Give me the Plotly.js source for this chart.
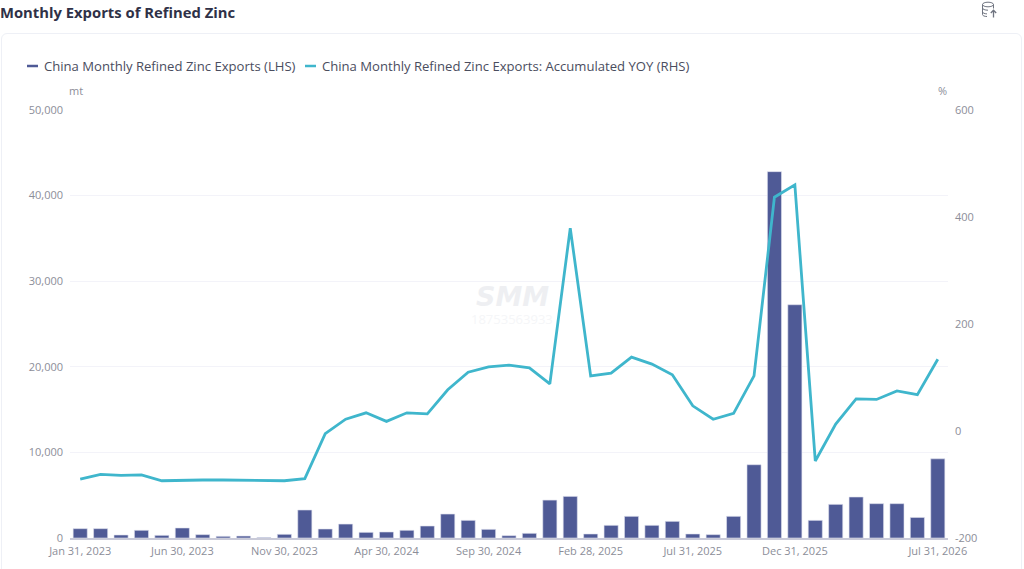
<!DOCTYPE html>
<html>
<head>
<meta charset="utf-8">
<title>Monthly Exports of Refined Zinc</title>
<script src="https://cdn.plot.ly/plotly-3.0.1.min.js"></script>
<style>
  html, body { margin: 0; padding: 0; background: #fff; overflow: hidden; }
  #card { position: absolute; left: 1px; top: 33px; width: 1021px; height: 600px;
          border: 1px solid #eef0f6; border-radius: 6px; box-sizing: border-box; }
  #icon { position: absolute; left: 981px; top: 1px; }
  #chart { position: absolute; left: 0; top: 0; width: 1024px; height: 569px; }
</style>
</head>
<body>
<div id="card"></div>
<svg id="icon" width="18" height="18" viewBox="0 0 18 18" fill="none" stroke="#6f7480" stroke-width="1">
  <ellipse cx="7" cy="3.5" rx="5.5" ry="2.3"/>
  <path d="M1.5 3.5v10c0 1.2 2 2 4.5 2M12.5 3.5v4M1.5 7c0 1.2 2.4 2.2 5.5 2.2M1.5 10.8c0 1.1 2 2 4.5 2.1"/>
  <path d="M12.5 16.5v-7M9.8 12l2.7-2.8 2.7 2.8" stroke-width="1.3"/>
</svg>
<div id="chart"></div>
<script>
var months = [
  'Jan 31, 2023','Feb 28, 2023','Mar 31, 2023','Apr 30, 2023','May 31, 2023','Jun 30, 2023',
  'Jul 31, 2023','Aug 31, 2023','Sep 30, 2023','Oct 31, 2023','Nov 30, 2023','Dec 31, 2023',
  'Jan 31, 2024','Feb 29, 2024','Mar 31, 2024','Apr 30, 2024','May 31, 2024','Jun 30, 2024',
  'Jul 31, 2024','Aug 31, 2024','Sep 30, 2024','Oct 31, 2024','Nov 30, 2024','Dec 31, 2024',
  'Jan 31, 2025','Feb 28, 2025','Mar 31, 2025','Apr 30, 2025','May 31, 2025','Jun 30, 2025',
  'Jul 31, 2025','Aug 31, 2025','Sep 30, 2025','Oct 31, 2025','Nov 30, 2025','Dec 31, 2025',
  'Jan 31, 2026','Feb 28, 2026','Mar 31, 2026','Apr 30, 2026','May 31, 2026','Jun 30, 2026',
  'Jul 31, 2026'
];

var exportsMt = [
  1090, 1090, 350, 900, 310, 1170, 390, 195, 230, 60, 430, 3270,
  1050, 1630, 660, 700, 900, 1400, 2800, 2060, 1010, 270, 545, 4430,
  4860, 470, 1480, 2530, 1480, 1945, 470, 390, 2530, 8560, 42800, 27250,
  2060, 3930, 4790, 4010, 4010, 2400, 9250
];

var accumulatedYoy = [
  -90, -81, -83, -82, -93, -92, -91.6, -91.6, -92, -93, -93, -89,
  -5, 22, 34, 18, 34, 32, 77, 110, 120, 123, 118, 88,
  379, 103, 108, 138, 125, 105, 47, 22, 33, 103, 437, 460,
  -56, 13, 60, 59, 75, 68, 134
];

var xTicks = ['Jan 31, 2023','Jun 30, 2023','Nov 30, 2023','Apr 30, 2024','Sep 30, 2024',
              'Feb 28, 2025','Jul 31, 2025','Dec 31, 2025','Jul 31, 2026'];
var leftTicks = [0, 10000, 20000, 30000, 40000, 50000];
var leftTickText = ['0','10,000','20,000','30,000','40,000','50,000'];
var rightTicks = [-200, 0, 200, 400, 600];
var rightTickText = ['-200','0','200','400','600'];

var barName = 'China Monthly Refined Zinc Exports (LHS)';
var lineName = 'China Monthly Refined Zinc Exports: Accumulated YOY (RHS)';

var barColor = '#4f5a96';
var lineColor = '#3fb6cc';
var tickFont = { family: 'Open Sans, sans-serif', size: 11, color: '#8c8e99' };

// plot box in page pixels, used to place the text that sits outside of it
var box = { l: 70, r: 948, t: 110, b: 538 };
function px(x) { return (x - box.l) / (box.r - box.l); }
function py(y) { return (box.b - y) / (box.b - box.t); }

function label(text, x, y, font, anchor) {
  return { text: text, xref: 'paper', yref: 'paper', x: px(x), y: py(y), showarrow: false,
           xanchor: anchor || 'left', yanchor: 'middle', font: font };
}

var legendFont = { family: 'Open Sans, sans-serif', size: 13.1, color: '#4a4d5e' };
var unitFont = { family: 'Open Sans, sans-serif', size: 11, color: '#8c8e99' };

var traces = [
  {
    x: months, y: exportsMt, type: 'bar', name: barName, yaxis: 'y',
    marker: { color: barColor, line: { color: '#dfe1ee', width: 0.6 } }
  },
  {
    x: months, y: accumulatedYoy, type: 'scatter', mode: 'lines', name: lineName, yaxis: 'y2',
    line: { color: lineColor, width: 2.8 }
  }
];

var layout = {
  width: 1024,
  height: 569,
  margin: { l: box.l, r: 1024 - box.r, t: box.t, b: 569 - box.b, pad: 0 },
  paper_bgcolor: 'rgba(0,0,0,0)',
  plot_bgcolor: 'rgba(0,0,0,0)',
  bargap: 0.31,
  showlegend: false,
  title: {
    text: '<b>Monthly Exports of Refined Zinc</b>',
    x: 0, xref: 'container', xanchor: 'left',
    y: 1 - 13 / 569, yref: 'container', yanchor: 'middle',
    pad: { l: 0, r: 0, t: 0, b: 0 },
    font: { family: 'Open Sans, sans-serif', size: 14.8, color: '#2f3147' }
  },
  xaxis: {
    type: 'category',
    categoryorder: 'array',
    categoryarray: months,
    range: [-0.5, 42.5],
    tickmode: 'array',
    tickvals: xTicks,
    ticktext: xTicks,
    tickangle: 0,
    ticks: '',
    tickfont: tickFont,
    ticklabelstandoff: 2,
    showgrid: false,
    showline: true,
    linecolor: '#c9cad8',
    linewidth: 2,
    zeroline: false
  },
  yaxis: {
    range: [0, 50000],
    tickmode: 'array',
    tickvals: leftTicks,
    ticktext: leftTickText,
    ticks: '',
    tickfont: tickFont,
    ticklabelstandoff: 6,
    gridcolor: '#f3f3f9',
    gridwidth: 1,
    zeroline: false,
    showline: false
  },
  yaxis2: {
    overlaying: 'y',
    side: 'right',
    range: [-200, 600],
    tickmode: 'array',
    tickvals: rightTicks,
    ticktext: rightTickText,
    ticks: '',
    tickfont: tickFont,
    ticklabelstandoff: 6,
    showgrid: false,
    zeroline: false,
    showline: false
  },
  shapes: [
    { type: 'line', xref: 'paper', yref: 'paper', x0: px(27), x1: px(38), y0: py(66), y1: py(66),
      line: { color: barColor, width: 2.5 } },
    { type: 'line', xref: 'paper', yref: 'paper', x0: px(305), x1: px(316), y0: py(66), y1: py(66),
      line: { color: lineColor, width: 2.5 } }
  ],
  annotations: [
    label(barName, 42, 66, legendFont),
    label(lineName, 320, 66, legendFont),
    label('mt', 67, 90, unitFont),
    label('%', 936, 90, unitFont),
    label('<b><i>SMM</i></b>', 512, 296, { family: 'DejaVu Sans, sans-serif', size: 27, color: '#eeeff2' }, 'center'),
    label('18753563933', 512, 319, { family: 'Open Sans, sans-serif', size: 13, color: '#f5f6f8' }, 'center')
  ]
};

Plotly.newPlot('chart', traces, layout, { displayModeBar: false, staticPlot: true });
</script>
</body>
</html>
